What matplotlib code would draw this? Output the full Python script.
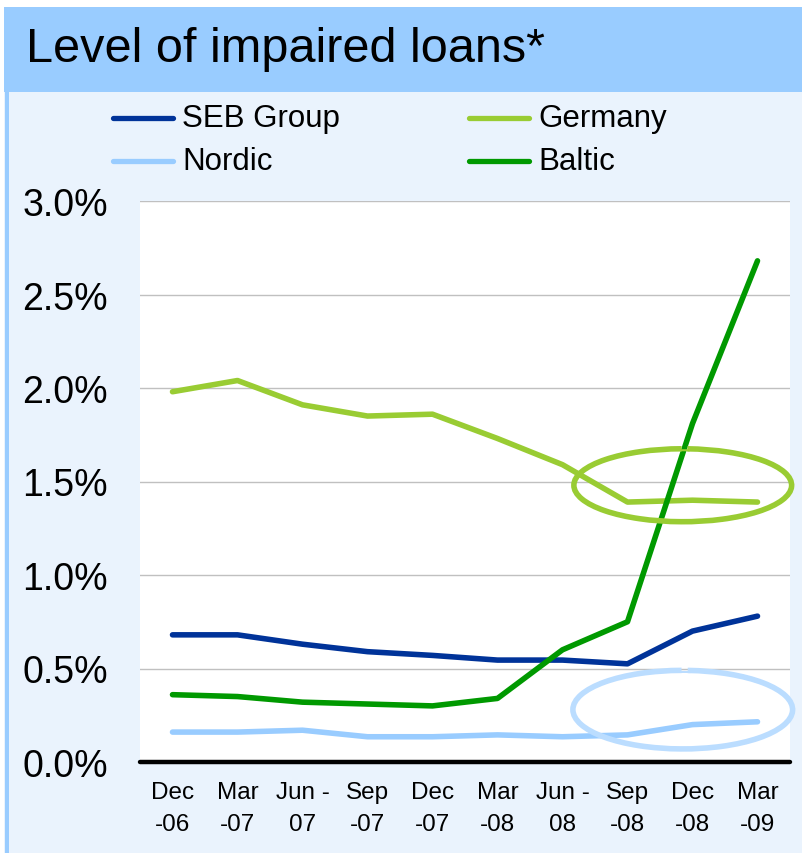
import matplotlib
matplotlib.use("Agg")
import matplotlib.pyplot as plt
from matplotlib.patches import Rectangle, Arc
from matplotlib.lines import Line2D
from matplotlib.ticker import FuncFormatter

plt.rcParams['font.family'] = ['Liberation Sans', 'DejaVu Sans']

# quarters
quarters = ["Dec\n-06", "Mar\n-07", "Jun -\n07", "Sep\n-07", "Dec\n-07",
            "Mar\n-08", "Jun -\n08", "Sep\n-08", "Dec\n-08", "Mar\n-09"]

# impaired loans, % of loans
seb_group = [0.68, 0.68, 0.63, 0.59, 0.57, 0.545, 0.545, 0.525, 0.70, 0.78]
germany = [1.98, 2.04, 1.91, 1.85, 1.86, 1.73, 1.59, 1.39, 1.40, 1.39]
nordic = [0.16, 0.16, 0.17, 0.135, 0.135, 0.145, 0.135, 0.145, 0.20, 0.215]
baltic = [0.36, 0.35, 0.32, 0.31, 0.30, 0.34, 0.60, 0.75, 1.81, 2.68]

series = [("SEB Group", seb_group, "#003399"),
          ("Nordic", nordic, "#99CCFF"),
          ("Germany", germany, "#99CC33"),
          ("Baltic", baltic, "#009900")]

W, H = 803, 854
fig = plt.figure(figsize=(W / 100, H / 100), dpi=100, facecolor="white")

def fx(px):
    return px / W

def fy(py):
    return 1 - py / H

# panel background, title bar, left border
fig.add_artist(Rectangle((fx(4), 0), 1, fy(93), transform=fig.transFigure,
                         facecolor="#EAF3FD", edgecolor="none", zorder=0))
fig.add_artist(Rectangle((fx(4), fy(93)), 1, fy(8) - fy(93), transform=fig.transFigure,
                         facecolor="#99CCFF", edgecolor="none", zorder=0))
fig.add_artist(Rectangle((fx(5), 0), fx(4), fy(93), transform=fig.transFigure,
                         facecolor="#99CCFF", edgecolor="none", zorder=0))

fig.text(fx(26), fy(50), "Level of impaired loans*", fontsize=35,
         ha="left", va="center", color="black")

# legend, drawn by hand to match the slide layout
legend_pos = {"SEB Group": (113, 119), "Nordic": (113, 162),
              "Germany": (469, 119), "Baltic": (469, 162)}
for name, vals, col in series:
    x0, y0 = legend_pos[name]
    fig.add_artist(Line2D([fx(x0), fx(x0 + 60)], [fy(y0), fy(y0)],
                          transform=fig.transFigure, color=col, lw=3.8,
                          solid_capstyle="round"))
    fig.text(fx(x0 + 69), fy(y0), name, fontsize=22.5, ha="left", va="center")

ax = fig.add_axes([fx(140), fy(763), fx(790) - fx(140), fy(202) - fy(763)])
ax.set_facecolor("white")

x = list(range(len(quarters)))
for name, vals, col in [series[1], series[0], series[2], series[3]]:
    ax.plot(x, vals, color=col, lw=4, solid_capstyle="round",
            solid_joinstyle="round", zorder=3)

ax.set_xlim(-0.5, len(quarters) - 0.5)
ax.set_ylim(0, 3.0)
ax.set_yticks([0, 0.5, 1.0, 1.5, 2.0, 2.5, 3.0])
ax.yaxis.set_major_formatter(FuncFormatter(lambda v, p: f"{v:.1f}%"))
ax.set_xticks(x)
ax.set_xticklabels(quarters, linespacing=1.57)
ax.tick_params(axis="y", length=0, pad=23, labelsize=27)
ax.tick_params(axis="x", length=0, pad=14, labelsize=17.5)
ax.grid(axis="y", color="#C0C0C0", lw=1)
ax.set_axisbelow(True)
for s in ["top", "right", "left", "bottom"]:
    ax.spines[s].set_visible(False)
ax.add_line(Line2D([0, 1], [0, 0], transform=ax.transAxes, color="black",
                   lw=3.2, solid_capstyle="round", clip_on=False, zorder=5))

# highlight ellipses (hand-drawn look: open arc plus thin tail)
for cx, cy, w, h, col in [(7.85, 1.48, 3.35, 0.39, "#99CC33"),
                          (7.85, 0.28, 3.38, 0.42, "#BBDDFF")]:
    ax.add_patch(Arc((cx, cy), w, h, theta1=95, theta2=430, color=col,
                     lw=4, zorder=4, clip_on=False))
    ax.add_patch(Arc((cx, cy), w * 0.98, h * 0.96, theta1=60, theta2=100,
                     color=col, lw=1.5, zorder=4, clip_on=False))

fig.savefig("out.png", dpi=100, facecolor=fig.get_facecolor())
